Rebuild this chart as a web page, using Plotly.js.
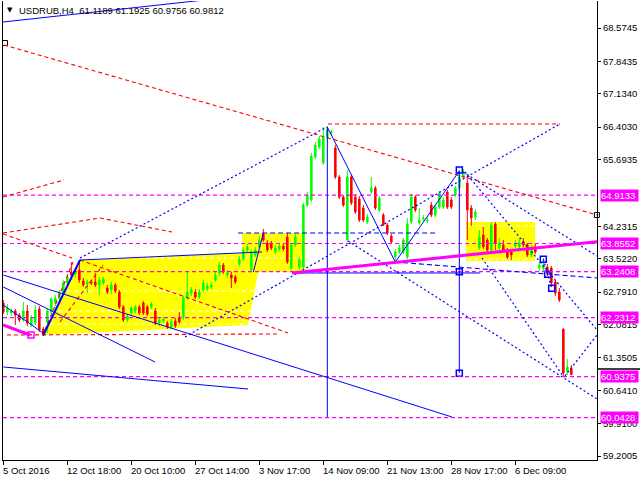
<!DOCTYPE html>
<html><head><meta charset="utf-8">
<script src="https://cdn.plot.ly/plotly-3.0.1.min.js"></script>
<style>html,body{margin:0;padding:0;background:#fff;overflow:hidden}#chart{width:640px;height:480px}</style>
</head><body><div id="chart"></div>
<script>
// ---- candle data (USDRUB H4) ----
const opens = [62.552,62.355,62.333,62.377,62.289,62.179,62.377,62.070,62.114,62.420,
61.982,62.136,62.355,62.552,62.661,62.771,62.990,63.231,63.187,63.274,
63.034,62.968,63.012,63.012,62.946,62.990,62.880,62.836,62.946,62.793,
62.464,62.179,62.333,62.377,62.464,62.552,62.464,62.464,62.377,62.114,
62.158,62.114,62.026,62.158,62.245,62.245,62.661,62.771,62.793,62.683,
62.836,62.858,62.902,63.055,63.209,63.384,63.165,63.165,63.121,63.406,
63.515,63.713,63.274,63.603,63.778,64.063,63.866,63.866,63.669,63.734,
63.800,63.997,63.318,63.822,63.340,63.340,64.698,64.808,65.749,65.968,
65.618,66.187,66.275,65.946,65.311,64.873,63.932,65.311,64.873,64.829,
64.632,64.326,64.983,65.070,64.589,64.479,64.260,64.019,63.559,63.669,
63.669,63.559,64.326,64.873,64.304,64.391,64.348,64.698,64.479,64.654,
64.654,64.983,64.808,64.917,65.070,65.311,65.180,64.632,64.435,63.756,
64.041,63.932,63.713,64.282,63.756,63.822,63.691,63.669,63.800,63.778,
63.888,63.822,63.603,63.778,63.318,63.296,63.340,63.318,63.012,62.793,
61.982,61.041,61.1189];
const highs = [62.617,62.530,62.420,62.420,62.333,62.574,62.508,62.289,62.508,62.486,
62.026,62.420,62.683,62.727,62.836,63.055,63.187,63.450,63.318,63.493,
63.099,63.055,63.055,63.209,63.121,63.121,62.946,63.012,62.990,62.836,
62.508,62.311,62.486,62.508,62.508,62.596,62.508,62.574,62.442,62.223,
62.245,62.158,62.201,62.223,62.355,62.705,63.231,62.902,62.858,62.858,
63.055,62.990,63.012,63.231,63.450,63.428,63.274,63.231,63.165,63.581,
63.778,63.844,63.713,63.778,64.019,64.172,63.932,63.910,63.822,63.844,
63.844,64.085,63.866,64.063,63.559,64.742,64.983,65.837,66.078,66.209,
66.406,66.428,66.341,66.012,65.355,64.917,65.465,65.355,64.939,64.895,
64.698,64.501,65.311,65.114,64.895,64.523,64.304,64.063,63.734,63.822,
63.975,64.413,64.939,64.917,64.632,64.479,64.435,64.764,64.698,65.005,
64.873,65.027,64.873,65.114,65.465,65.486,65.311,64.698,64.610,64.151,
64.216,63.975,64.326,64.326,63.975,63.932,63.756,63.713,63.932,63.975,
63.975,63.866,63.822,63.844,63.450,63.537,63.406,63.362,63.055,62.880,
61.995,61.325,61.1925];
const lows = [62.311,62.289,62.267,62.070,62.136,62.136,62.048,62.026,62.070,61.917,
61.829,61.895,62.311,62.486,62.617,62.727,62.946,63.121,63.099,62.990,
62.902,62.771,62.946,62.902,62.727,62.946,62.749,62.749,62.771,62.420,
62.136,62.136,62.267,62.333,62.289,62.289,62.267,62.420,62.070,62.048,
62.114,61.982,61.982,62.004,62.092,62.179,62.617,62.705,62.639,62.639,
62.793,62.815,62.858,63.012,63.143,63.187,63.099,62.880,62.968,63.362,
63.472,63.669,63.231,63.559,63.734,63.888,63.669,63.713,63.625,63.691,
63.691,63.406,63.274,63.778,63.274,63.296,64.654,64.764,65.705,65.925,
65.574,66.144,66.231,65.267,64.829,64.654,63.888,64.698,64.501,64.326,
64.326,64.282,64.939,64.589,64.545,64.238,64.041,63.844,63.450,63.625,
63.625,63.515,64.282,64.545,64.260,64.348,64.304,64.435,64.435,64.610,
64.610,64.610,64.610,64.873,65.027,65.267,63.932,64.238,64.370,63.713,
63.734,63.669,63.669,63.713,63.713,63.669,63.515,63.493,63.756,63.734,
63.778,63.559,63.559,63.625,63.252,63.252,63.143,62.924,62.705,62.574,
60.931,60.975,60.9756];
const closes = [62.355,62.442,62.377,62.289,62.179,62.377,62.114,62.245,62.398,61.960,
61.873,62.377,62.639,62.661,62.771,62.990,63.121,63.165,63.231,63.055,
62.946,63.012,62.990,62.946,63.055,63.077,62.793,62.946,62.815,62.464,
62.179,62.267,62.442,62.464,62.333,62.333,62.311,62.530,62.114,62.179,
62.201,62.026,62.136,62.048,62.136,62.661,62.793,62.836,62.683,62.793,
62.990,62.924,62.946,63.165,63.384,63.231,63.209,63.099,63.012,63.515,
63.713,63.778,63.669,63.713,63.932,63.932,63.713,63.756,63.756,63.800,
63.734,63.450,63.822,63.997,63.493,64.698,64.917,65.771,66.012,66.144,
66.187,66.341,66.297,65.311,64.873,64.698,65.311,64.742,64.545,64.370,
64.370,64.435,65.070,64.632,64.851,64.260,64.085,63.888,63.669,63.756,
63.932,64.282,64.873,64.589,64.370,64.413,64.370,64.479,64.654,64.961,
64.808,64.654,64.654,65.070,65.311,65.421,64.589,64.413,64.545,63.997,
63.778,63.713,64.260,63.866,63.866,63.713,63.559,63.603,63.866,63.866,
63.822,63.603,63.756,63.669,63.384,63.384,63.209,62.990,62.771,62.617,
61.019,61.150,60.9812];

// ---- axes ----
const xTickIndex = [0,16,32,48,64,80,96,112,128];
const xTickLabels = ["5 Oct 2016","12 Oct 18:00","20 Oct 10:00","27 Oct 14:00","3 Nov 17:00","14 Nov 09:00","21 Nov 13:00","28 Nov 17:00","6 Dec 09:00"];
const yTickVals = [68.5745,67.8435,67.1340,66.4030,65.6935,64.2315,63.5220,62.7910,62.0815,61.3505,60.6410,59.9100,59.2005];
const levelPrices = [64.9133,63.8552,63.2408,62.2312,60.9375,60.0428];
const titleText = "USDRUB,H4\u00a0\u00a061.1189 61.1925 60.9756 60.9812";

// ---- drawn objects: [barIndex0, price0, barIndex1, price1] ----
const blueSolid = [
 [-0.08,68.706,61.67,69.297],
 [0,62.902,37.92,61.260],
 [0,63.165,112.17,60.055],
 [0,61.150,61.17,60.668],
 [0,62.508,9.92,61.895],
 [19.17,63.493,64.67,63.669],
 [62.5,63.23,65,64.08],
 [81,66.406,81,60.055],
 [81,66.406,98,63.45],
 [98,63.45,114,65.443],
 [114,65.443,114,61.019],
 [72.5,63.209,119.2,63.209]
];
const blueThick = [[10,61.851,19.17,63.493]];
const blueDashed = [[58.7,64.085,108.7,64.085],[97.92,63.450,148.42,63.099]];
const blueDotted = [
 [19.17,63.537,80.92,66.406],
 [45.42,61.807,139.17,66.472],
 [86.17,63.910,148.42,60.449],
 [114.92,65.421,148.42,63.581],
 [119.67,63.537,139.92,60.953],
 [140.42,60.953,148.42,61.851],
 [115.42,65.421,148.42,61.960],
 [135,63.509,137.1,62.874]
];
const redDashed = [
 [0.17,68.202,148.42,64.479],
 [81.17,66.472,139.17,66.472],
 [0.92,61.851,69.17,61.873],
 [10.42,61.960,17.42,63.450],
 [14.17,62.136,24.92,63.384],
 [19.17,63.493,71.17,61.895],
 [-0.08,64.063,17.17,63.537],
 [-0.08,64.085,24.17,64.413],
 [24.17,64.413,42.17,64.107],
 [-0.08,64.873,15.17,65.246]
];
const magentaThick = [[72.17,63.209,148.42,63.894],[-0.08,62.070,6.67,61.851]];
const yellowBoxes = [[59.7,64.085,75.45,63.231],[115.67,64.326,132.92,63.472]];
const yellowPoly = [[10,61.851],[19.17,63.493],[64.67,63.669],[61.17,62.070]];
const whiteDashed = [
 [20,63.537,75,63.537],[16,62.815,63,62.815],[12,62.377,62,62.377],[10,62.092,61,62.092],
 [116,64.238,132.5,64.238],[116,63.515,132.5,63.515],[31.7,63.099,61.2,62.136]
];
const blueSqIdx = [114,114,114,135,136.1,137.1];
const blueSqPrice = [65.465,63.237,61.012,63.509,63.180,62.874];
const blackSqIdx = [0.42,148.4];
const blackSqPrice = [68.246,64.479];
const magSqIdx = [6.92];
const magSqPrice = [61.851];

// ---- build ----
const barIndex = opens.map((_, i) => i);
const BLUE='#0000ff', RED='#ff0000', MAG='#ff00ff', YEL='#ffff00';
const FONT='Liberation Sans, Arial, sans-serif';

function seg(a, color, width, dash, layer){
  return {type:'line', xref:'x', yref:'y', x0:a[0], y0:a[1], x1:a[2], y1:a[3],
    line:{color:color, width:width, dash:dash}, layer:layer||'above'};
}
const shapes = [];
yellowBoxes.forEach(b => shapes.push({type:'rect', xref:'x', yref:'y', x0:b[0], y0:b[1], x1:b[2], y1:b[3],
  fillcolor:YEL, line:{width:0}, layer:'below'}));
shapes.push({type:'path', xref:'x', yref:'y', layer:'below', fillcolor:YEL, line:{width:0},
  path:'M ' + yellowPoly.map(p => p[0] + ',' + p[1]).join(' L ') + ' Z'});
whiteDashed.forEach(a => shapes.push(seg(a, '#ffffff', 1, '4px,3px', 'below')));
levelPrices.forEach(v => shapes.push({type:'line', xref:'paper', yref:'y', x0:0, x1:1, y0:v, y1:v,
  line:{color:MAG, width:1.2, dash:'4px,3px'}, layer:'above'}));
redDashed.forEach(a => shapes.push(seg(a, RED, 1.1, '4px,3px')));
blueDotted.forEach(a => shapes.push(seg(a, BLUE, 1.2, '2px,2.5px')));
blueDashed.forEach(a => shapes.push(seg(a, BLUE, 1.1, '5px,3px')));
blueSolid.forEach(a => shapes.push(seg(a, BLUE, 1, 'solid')));
blueThick.forEach(a => shapes.push(seg(a, BLUE, 2, 'solid')));
magentaThick.forEach(a => shapes.push(seg(a, MAG, 3, 'solid')));
// current price marker on the price scale
const lastClose = closes[closes.length - 1];
shapes.push({type:'line', xref:'paper', yref:'y', x0:1, x1:1.08, y0:lastClose + 0.125, y1:lastClose + 0.125,
  line:{color:'#000', width:1.5}});

const annotations = [];
xTickIndex.forEach((ix, k) => annotations.push({xref:'x', x:ix, yref:'paper', y:0, xanchor:'left', yanchor:'top',
  yshift:-3, xshift:-2, text:xTickLabels[k], showarrow:false, font:{family:FONT, size:9.5, color:'#000'}}));
levelPrices.forEach(v => annotations.push({xref:'paper', x:1, xanchor:'left', xshift:3, yref:'y', y:v, yanchor:'middle',
  text:v.toFixed(4) + '\u00a0', showarrow:false, bgcolor:MAG, borderpad:0,
  font:{family:FONT, size:9.5, color:'#ffffff'}}));
annotations.push({xref:'paper', x:(10-3)/594, xanchor:'center', yref:'paper', y:(460-10)/459, yanchor:'middle',
  text:'\u25BC', showarrow:false, font:{family:'DejaVu Sans', size:7, color:'#000'}});
annotations.push({xref:'paper', x:(17-3)/594, xanchor:'left', yref:'paper', y:(460-10.5)/459, yanchor:'middle',
  text:titleText, showarrow:false, font:{family:FONT, size:9.5, color:'#000'}});

const traces = [
  {type:'candlestick', x:barIndex, open:opens, high:highs, low:lows, close:closes,
   increasing:{line:{color:'#00ff00', width:1}, fillcolor:'#00ff00'},
   decreasing:{line:{color:'#ff0000', width:1}, fillcolor:'#ff0000'},
   whiskerwidth:0, hoverinfo:'skip', showlegend:false},
  {type:'scatter', mode:'markers', x:blueSqIdx, y:blueSqPrice, cliponaxis:false, hoverinfo:'skip',
   marker:{symbol:'square-open', size:6, color:BLUE, line:{width:1.5, color:BLUE}}},
  {type:'scatter', mode:'markers', x:blackSqIdx, y:blackSqPrice, cliponaxis:false, hoverinfo:'skip',
   marker:{symbol:'square-open', size:5, color:'#000', line:{width:1, color:'#000'}}},
  {type:'scatter', mode:'markers', x:magSqIdx, y:magSqPrice, cliponaxis:false, hoverinfo:'skip',
   marker:{symbol:'square-open', size:6, color:MAG, line:{width:1.5, color:MAG}}}
];

const layout = {
  width:640, height:480, margin:{l:3, r:43, t:1, b:20, pad:0},
  paper_bgcolor:'#ffffff', plot_bgcolor:'#ffffff', showlegend:false, boxgap:0.45,
  font:{family:FONT, size:9.5, color:'#000'},
  xaxis:{range:[-0.08,148.42], showgrid:false, zeroline:false, showline:true, linecolor:'#000', linewidth:1,
    ticks:'outside', ticklen:4, tickcolor:'#000', tickvals:xTickIndex, showticklabels:false,
    rangeslider:{visible:false}, fixedrange:true},
  yaxis:{range:[59.113,69.166], side:'right', showgrid:false, zeroline:false, showline:true, mirror:true,
    linecolor:'#000', linewidth:1, ticks:'outside', ticklen:3, tickcolor:'#000',
    tickvals:yTickVals, ticktext:yTickVals.map(v => v.toFixed(4)), tickfont:{family:FONT, size:9.5, color:'#000'},
    fixedrange:true},
  shapes:shapes, annotations:annotations
};
Plotly.newPlot('chart', traces, layout, {staticPlot:true, displayModeBar:false});
</script></body></html>
